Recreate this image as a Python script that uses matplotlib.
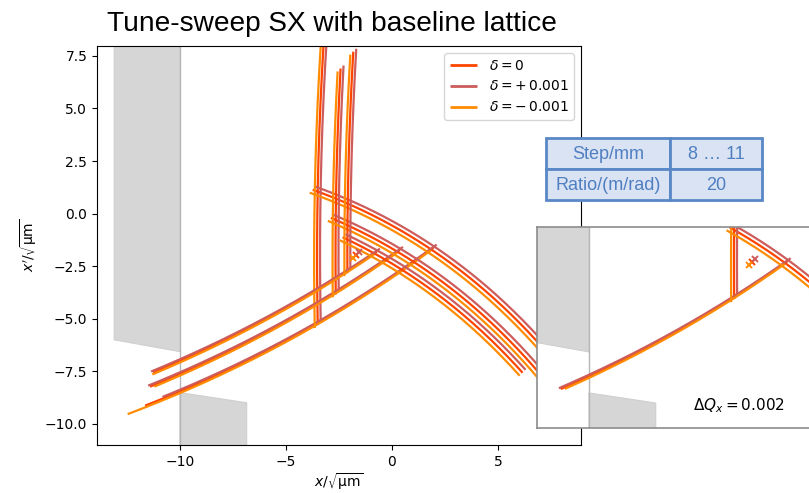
import numpy as np
import matplotlib
matplotlib.use("Agg")
import matplotlib.pyplot as plt
from matplotlib.patches import Polygon, Rectangle

# ---------------- data ----------------
delta_values = [0.0, 0.001, -0.001]
delta_labels = [r"$\delta = 0$", r"$\delta = +\,0.001$", r"$\delta = -\,0.001$"]
delta_colors = ["orangered", "indianred", "darkorange"]

# shift of the separatrix per unit momentum deviation (normalized units)
disp_x = 140.0
disp_y = 140.0

# tune-sweep steps (delta = 0): unstable fixed points of each separatrix triangle
step_left_x = [-3.50, -2.65, -2.10]
step_top_y = [1.05, -0.30, -1.23]
step_bottom_y = [-5.20, -3.74, -2.73]
step_right_x = [1.85, 0.26, -0.83]
step_right_y = [-1.70, -1.81, -1.89]
# outer ends of the separatrix arms
step_vert_end_y = [9.0, 6.9, 7.7]
step_desc_end_x = [9.5, 8.3, 7.0]
step_asc_end_x = [[-11.0, -10.4, -11.6],
                  [-10.8, -11.0, -10.5],
                  [-10.7, -10.9, -10.6]]
closed_orbit_x = -1.68
closed_orbit_y = -1.95

# inset: tune distance dQx = 0.002
inset_left_x = -3.15
inset_top_y = -0.76
inset_bottom_y = -3.95
inset_right_x = -0.75
inset_right_y = -2.33
inset_vert_end_y = 2.0
inset_desc_end_x = 3.0
inset_asc_end_x = [-10.8, -11.0, -10.5]
inset_closed_orbit_x = -2.32
inset_closed_orbit_y = -2.30

# bending of the separatrix arms
kappa_vert = 0.003
kappa_desc = 0.020
kappa_asc = 0.0085

# electrostatic septum
septum_x = -10.0
upper_blade_x = [-13.1, -10.0]
upper_blade_bottom_y = [-6.0, -6.56]
lower_blade_x = [-10.0, -6.85]
lower_blade_top_y = [-8.51, -8.99]

table_cells = [["Step/mm", "8 \u2026 11"], ["Ratio/(m/rad)", "20"]]
title_text = "Tune-sweep SX with baseline lattice"
inset_text = r"$\Delta Q_x = 0.002$"


# ---------------- helpers ----------------
def arm(P, Q, s0, s1, kappa, n=300):
    P = np.asarray(P, float)
    Q = np.asarray(Q, float)
    d = Q - P
    S = np.hypot(*d)
    u = d / S
    nrm = np.array([u[1], -u[0]])
    s = np.linspace(s0, s1, n)
    off = kappa * s * (s - S)
    pts = P[None, :] + s[:, None] * u[None, :] + off[:, None] * nrm[None, :]
    return pts[:, 0], pts[:, 1]


def separatrix(ax, lx, ty, by, rx, ry, vend, dend, aend, color, lw=1.6, label=None):
    L = (lx, by)
    T = (lx, ty)
    R = (rx, ry)
    # vertical arm L -> T -> up
    x, y = arm(L, T, -0.1, vend - by, kappa_vert)
    ax.plot(x, y, color=color, lw=lw, solid_capstyle="butt", label=label)
    # descending arm T -> R -> down right
    d = np.array(R) - np.array(T)
    ux = d[0] / np.hypot(*d)
    x, y = arm(T, R, -0.25, (dend - T[0]) / ux, kappa_desc)
    ax.plot(x, y, color=color, lw=lw, solid_capstyle="butt")
    # ascending arm R -> L -> down left
    d = np.array(L) - np.array(R)
    ux = d[0] / np.hypot(*d)
    x, y = arm(R, L, -0.15, (aend - R[0]) / ux, kappa_asc)
    ax.plot(x, y, color=color, lw=lw, solid_capstyle="butt")


def septum(ax):
    ytop, ybot = 30.0, -30.0
    up = Polygon([(upper_blade_x[0], ytop), (upper_blade_x[1], ytop),
                  (upper_blade_x[1], upper_blade_bottom_y[1]),
                  (upper_blade_x[0], upper_blade_bottom_y[0])],
                 closed=True, facecolor="#d6d6d6", edgecolor="#cfcfcf", lw=0.8, zorder=1)
    lo = Polygon([(lower_blade_x[0], lower_blade_top_y[0]),
                  (lower_blade_x[1], lower_blade_top_y[1]),
                  (lower_blade_x[1], ybot), (lower_blade_x[0], ybot)],
                 closed=True, facecolor="#d6d6d6", edgecolor="#cfcfcf", lw=0.8, zorder=1)
    ax.add_patch(up)
    ax.add_patch(lo)
    ax.axvline(septum_x, color="#b5b5b5", lw=1.0, zorder=1.5)


# ---------------- figure ----------------
W, H = 809, 493
fig = plt.figure(figsize=(W / 100, H / 100), dpi=100)

ax = fig.add_axes([97 / W, (H - 445) / H, 484 / W, 399 / H])
septum(ax)
for k in range(len(step_left_x)):
    for j, (dv, col) in enumerate(zip(delta_values, delta_colors)):
        sx = disp_x * dv
        sy = disp_y * dv
        separatrix(ax, step_left_x[k] + sx, step_top_y[k] + sy, step_bottom_y[k] + sy,
                   step_right_x[k] + sx, step_right_y[k] + sy,
                   step_vert_end_y[k] + sy, step_desc_end_x[k] + sx,
                   step_asc_end_x[k][j] + sx, col,
                   label=delta_labels[j] if k == 0 else None)
for dv, col in zip(delta_values, delta_colors):
    ax.plot(closed_orbit_x + disp_x * dv, closed_orbit_y + disp_y * dv, "x",
            color=col, ms=5, mew=1.4)

ax.set_xlim(-13.91, 8.92)
ax.set_ylim(-11.0, 7.97)
ax.set_xticks([-10, -5, 0, 5])
ax.set_yticks([-10, -7.5, -5, -2.5, 0, 2.5, 5, 7.5])
ax.set_xlabel(r"$x/\sqrt{\mathrm{\mu m}}$", labelpad=2)
ax.set_ylabel(r"$x'/\sqrt{\mathrm{\mu m}}$")
leg = ax.legend(loc="upper right", fontsize=10)
for line in leg.get_lines():
    line.set_linewidth(2.0)

# title
fig.text(332 / W, 1 - 31 / H, title_text, ha="center", va="baseline",
         fontsize=20.2, family=["Liberation Sans", "DejaVu Sans"])

# inset
iax = fig.add_axes([537 / W, (H - 428) / H, 298 / W, 201 / H])
iax.set_facecolor("white")
septum(iax)
for j, (dv, col) in enumerate(zip(delta_values, delta_colors)):
    sx = disp_x * dv
    sy = disp_y * dv
    separatrix(iax, inset_left_x + sx, inset_top_y + sy, inset_bottom_y + sy,
               inset_right_x + sx, inset_right_y + sy, inset_vert_end_y,
               inset_desc_end_x, inset_asc_end_x[j] + sx, col)
    iax.plot(inset_closed_orbit_x + sx, inset_closed_orbit_y + sy, "x",
             color=col, ms=5, mew=1.4)
iax.set_xlim(-12.45, -12.45 + 298 / 21.2)
iax.set_ylim(-0.62 - 201 / 21.03, -0.62)
iax.set_xticks([])
iax.set_yticks([])
for sp in iax.spines.values():
    sp.set_edgecolor("#8c8c8c")
    sp.set_linewidth(1.2)
iax.text(-10 + (739 - 589) / 21.2, -0.62 - (406 - 227) / 21.03, inset_text,
         ha="center", va="center", fontsize=11)

# table
tax = fig.add_axes([546 / W, (H - 200) / H, 216 / W, 62 / H])
tax.set_xlim(0, 216)
tax.set_ylim(62, 0)
tax.axis("off")
col_edges = [0, 124, 216]
row_edges = [0, 31, 62]
blue_edge = "#5a87c6"
for r in range(2):
    for c in range(2):
        tax.add_patch(Rectangle((col_edges[c], row_edges[r]),
                                col_edges[c + 1] - col_edges[c],
                                row_edges[r + 1] - row_edges[r],
                                facecolor="#dae3f3", edgecolor=blue_edge, lw=2.0,
                                clip_on=False))
        tax.text((col_edges[c] + col_edges[c + 1]) / 2,
                 (row_edges[r] + row_edges[r + 1]) / 2 + 1,
                 table_cells[r][c], ha="center", va="center", fontsize=13,
                 color="#4f7fc0", family=["Liberation Sans", "DejaVu Sans"])

fig.savefig("out.png", dpi=100)
